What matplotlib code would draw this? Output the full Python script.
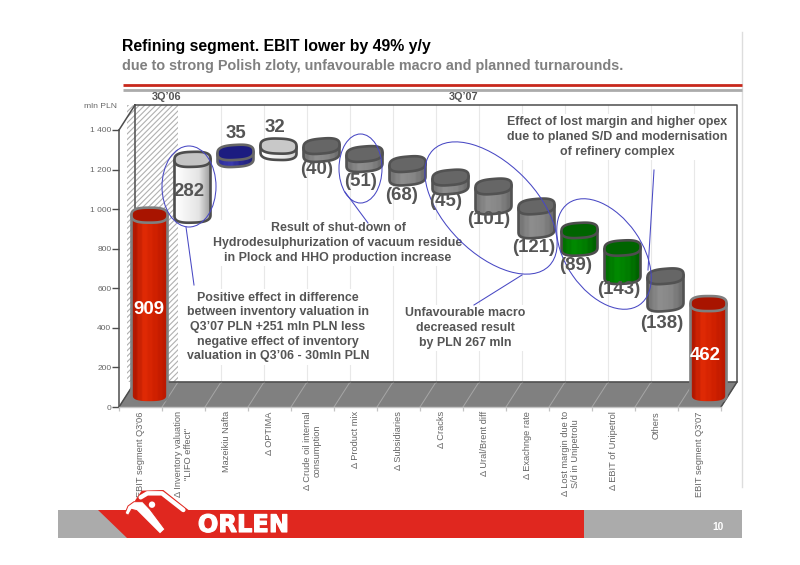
import numpy as np
import matplotlib
matplotlib.use("Agg")
import matplotlib.pyplot as plt
import matplotlib.patheffects as pe
from matplotlib.patches import Rectangle, Polygon, Ellipse, PathPatch, Circle
from matplotlib.path import Path
from matplotlib.colors import LinearSegmentedColormap

# ---- data ----
categories = ["EBIT segment Q3'06", "\u0394 Inventory valuation\n\"LIFO effect\"", "Mazeikiu Nafta",
              "\u0394 OPTIMA", "\u0394 Crude oil internal\nconsumption", "\u0394 Product mix",
              "\u0394 Subsidiaries", "\u0394 Cracks", "\u0394 Ural/Brent diff", "\u0394 Exachnge rate",
              "\u0394 Lost margin due to\nS/d in Unipetrolu", "\u0394 EBIT of Unipetrol", "Others",
              "EBIT segment Q3'07"]
values = [909, 282, 35, 32, -40, -51, -68, -45, -101, -121, -89, -143, -138, 462]
kinds = ["total", "white", "navy", "light", "grey", "grey", "grey", "grey", "grey", "grey",
         "green", "green", "grey", "total"]
y_ticks = [0, 200, 400, 600, 800, 1000, 1200, 1400]
y_tick_labels = ["0", "200", "400", "600", "800", "1 000", "1 200", "1 400"]

# ---- layout (pixels of the 800x565 picture) ----
W, H = 800, 565
X0, X1, Y0, Y1 = 119, 721, 407, 130
DX, DY = 16, 25                # depth of the 3D box
BAR_DX, BAR_DY = 9, 12         # bar seat on the floor
BAR_W, CAP_H = 36, 15
label_dx = [-1, -3.5, 0, -3.5, -5, -4, -6, -5, -4.5, -3, -4, -4, -4, -3.5]
label_py = [310, 192, 134, 128, 169, 181, 196, 202, 220, 247, 266, 289, 323, 355]
styles = {
    "total": dict(grad=["#a81500", "#e02a05", "#cf2000", "#b81800"], top="#a81400", edge="#7f7f7f", tilt=0, rip=0.04),
    "white": dict(grad=["#ffffff", "#f2f2f2", "#e4e4e4", "#9a9a9a"], top="#c4c4c4", edge="#4d4d4d", tilt=1, rip=0),
    "navy":  dict(grad=["#30309a", "#3a3ab0", "#28288c", "#202078"], top="#1c1c80", edge="#666666", tilt=2, rip=0.04),
    "light": dict(grad=["#ffffff", "#f4f4f4", "#e8e8e8", "#cccccc"], top="#c8c8c8", edge="#4d4d4d", tilt=-1, rip=0),
    "grey":  dict(grad=["#727272", "#8e8e8e", "#868686", "#686868"], top="#666666", edge="#525252", tilt=3, rip=0.03),
    "green": dict(grad=["#006a00", "#008a00", "#007c00", "#005c00"], top="#006400", edge="#4d4d4d", tilt=2, rip=0.04),
}
TXT = "#555555"
FONT = "Liberation Sans"
plt.rcParams["font.family"] = [FONT, "DejaVu Sans"]
plt.rcParams["hatch.linewidth"] = 0.8

fig = plt.figure(figsize=(W / 100, H / 100), dpi=100, facecolor="white")


def overlay(z):
    a = fig.add_axes([0, 0, 1, 1], zorder=z)
    a.set_xlim(0, W)
    a.set_ylim(H, 0)
    a.axis("off")
    a.patch.set_alpha(0)
    return a


back = overlay(0)
ax = fig.add_axes([X0 / W, (H - Y0) / H, (X1 - X0) / W, (Y0 - Y1) / H], zorder=1)
top = overlay(2)
ax.patch.set_alpha(0)

# ---- page furniture ----
back.plot([742, 742], [32, 487], color="#dddddd", lw=1.0)
back.plot([123, 742], [85, 85], color="#c8281c", lw=2.0, solid_capstyle="butt")
back.plot([123, 742], [90, 90], color="#ababab", lw=2.0, solid_capstyle="butt")
back.text(122, 47, "Refining segment. EBIT lower by 49% y/y", fontsize=11.45, fontweight="bold",
          color="black", ha="left", va="center")
back.text(122, 66, "due to strong Polish zloty, unfavourable macro and planned turnarounds.",
          fontsize=10.35, fontweight="bold", color="#808080", ha="left", va="center")
back.text(167, 97, "3Q\u201906", fontsize=7.8, fontweight="bold", color=TXT, ha="center", va="center")
back.text(464, 97, "3Q\u201907", fontsize=7.8, fontweight="bold", color=TXT, ha="center", va="center")
back.text(117, 106, "mln PLN", fontsize=6.1, color="#666666", ha="right", va="center")

# hatch band, back wall, floor
back.add_patch(Rectangle((127, Y1 - DY), 51, Y0 - Y1, facecolor="white", edgecolor="#b0b0b0",
                         hatch="//////", lw=0))
for k in range(2, 14):
    x = X0 + DX + 43 * k
    back.plot([x, x], [Y1 - DY, Y0 - DY], color="#e8e8e8", lw=0.8)
back.add_patch(Polygon([(X0, Y0), (X0 + DX, Y0 - DY), (X1 + DX, Y0 - DY), (X1, Y0)],
                       facecolor="#808080", edgecolor="#808080", lw=0.5))
for k in range(1, 14):
    x = X0 + 43 * k
    back.plot([x, x + DX], [Y0, Y0 - DY], color="#a6a6a6", lw=0.7)
back.plot([X0 + DX, X1 + DX, X1 + DX, X0 + DX, X0 + DX],
          [Y1 - DY, Y1 - DY, Y0 - DY, Y0 - DY, Y1 - DY], color="#4d4d4d", lw=1.1)
back.plot([X0, X0 + DX], [Y1, Y1 - DY], color="#4d4d4d", lw=1.1)
back.plot([X0, X0 + DX], [Y0, Y0 - DY], color="#4d4d4d", lw=1.1)
back.plot([X1, X1 + DX], [Y0, Y0 - DY], color="#4d4d4d", lw=1.1)

# footer
back.add_patch(Rectangle((58, 510), 684, 28, facecolor="#ababab", lw=0))
back.add_patch(Polygon([(98, 510), (584, 510), (584, 538), (127, 538)], facecolor="#e0271f", lw=0))


def z3(pts):
    return [(100 + x / 3, 370 + y / 3) for x, y in pts]


top.add_patch(Polygon(z3([(105, 392), (125, 362), (190, 360), (268, 422), (120, 422)]), facecolor="#e0271f", lw=0))
roof = z3([(122, 382), (142, 370), (186, 370), (250, 420)])
rx, ry = zip(*roof)
top.plot(rx, ry, color="white", lw=3.2, solid_capstyle="round", solid_joinstyle="round")
top.add_patch(Polygon(z3([(75, 430), (84, 408), (102, 395), (128, 395), (150, 418), (195, 478), (180, 492),
                          (110, 422), (95, 418), (85, 436)]),
                      facecolor="white", edgecolor="#e0271f", lw=0.7, joinstyle="round"))
top.add_patch(Circle(z3([(156, 404)])[0], 3.2, facecolor="white", lw=0))
top.text(243.5, 525, "ORLEN", fontsize=17.4, fontweight="bold", family="DejaVu Sans", color="white",
         ha="center", va="center", path_effects=[pe.withStroke(linewidth=0.8, foreground="white")])
top.text(718, 527, "10", fontsize=7.4, fontweight="bold", color="white", ha="center", va="center")

# ---- data axes ----
ax.set_xlim(0, len(categories))
ax.set_ylim(0, 1400)
for s in ("top", "right"):
    ax.spines[s].set_visible(False)
ax.spines["left"].set_color("#4d4d4d")
ax.spines["left"].set_linewidth(1.1)
ax.spines["bottom"].set_color("#c4c4c4")
ax.spines["bottom"].set_linewidth(1.0)
ax.set_yticks(y_ticks, y_tick_labels, fontsize=6.0, color="#666666")
ax.tick_params(axis="y", length=5, width=1.0, color="#4d4d4d", pad=0.5)
ax.set_xticks(np.arange(len(categories)) + 0.5, categories, rotation=90, fontsize=6.7, color="#666666",
              ha="center", va="top", linespacing=1.05)
ax.tick_params(axis="x", which="major", length=0, pad=3)
ax.set_xticks(np.arange(len(categories) + 1), minor=True)
ax.tick_params(axis="x", which="minor", length=3, width=0.9, color="#c4c4c4")

ux = 1 / 43.0
uy = 1400.0 / (Y0 - Y1)
POW = 0.72                      # squarer than an ellipse, like the faceted caps


def cylinder(i, low, high, st):
    cx = i + 0.5 + BAR_DX * ux
    hw = BAR_W / 2 * ux
    base = BAR_DY * uy
    ylo, yhi = low + base, high + base
    ch = CAP_H / 2 * uy
    slope = st["tilt"] * uy / (2 * hw)
    t = np.linspace(0, np.pi, 60)
    c = np.sign(np.cos(t)) * np.abs(np.cos(t)) ** POW
    s = np.sin(t) ** POW
    xs = cx - hw * c
    tilt = slope * (xs - cx)
    lower = ylo - ch * s + tilt
    upper_back = yhi + ch * s + tilt
    upper_front = yhi - ch * s + tilt
    hi_edge = yhi + tilt
    body = Path(np.r_[np.c_[xs, lower], np.c_[xs[::-1], hi_edge[::-1]], [[xs[0], lower[0]]]])
    ax.add_patch(PathPatch(body, facecolor="none", edgecolor=st["edge"], lw=1.9, zorder=3, clip_on=False,
                           joinstyle="round"))
    cmap = LinearSegmentedColormap.from_list("g", st["grad"])
    u = np.linspace(0, 1, 96)
    shade = np.clip(u + st["rip"] * np.sin(2 * np.pi * 7 * u), 0, 1)
    im = ax.imshow(shade[None, :], extent=(cx - hw, cx + hw, ylo - 2 * ch, yhi + 2 * ch), cmap=cmap,
                   vmin=0, vmax=1, aspect="auto", zorder=2, interpolation="bilinear")
    im.set_clip_path(PathPatch(body, transform=ax.transData))
    im.set_clip_box(fig.bbox)
    cap = np.r_[np.c_[xs, upper_back], np.c_[xs[::-1], upper_front[::-1]]]
    ax.add_patch(Polygon(cap, closed=True, facecolor=st["top"], edgecolor=st["edge"], lw=1.9, zorder=4,
                         clip_on=False, joinstyle="round"))
    return cx


running = 0
for i, (v, kind) in enumerate(zip(values, kinds)):
    if kind == "total":
        low, high = 0, v
        running = v
    else:
        low, high = sorted((running, running + v))
        running += v
    cx = cylinder(i, low, high, styles[kind])
    px = X0 + cx * 43 + label_dx[i]
    txt = f"({abs(v)})" if v < 0 else str(v)
    top.text(px, label_py[i], txt, fontsize=13.4, fontweight="bold",
             color="white" if kind == "total" else TXT, ha="center", va="center")
ax.set_xlim(0, len(categories))
ax.set_ylim(0, 1400)

# ---- commentary ----
note = dict(fontsize=8.95, fontweight="bold", color=TXT, ha="center", va="center", linespacing=1.29,
            multialignment="center")
wbox = dict(facecolor="white", edgecolor="none", pad=2)
back.text(278, 327, "Positive effect in difference\nbetween inventory valuation in\nQ3\u201907 PLN +251 mln PLN less\n"
          "negative effect of inventory\nvaluation in Q3\u201906 - 30mln PLN", bbox=wbox, **note)
back.text(338, 243, "Result of shut-down of\nHydrodesulphurization of vacuum residue\nin Plock and HHO production increase",
          bbox=wbox, **note)
back.text(465, 328, "Unfavourable macro\ndecreased result\nby PLN 267 mln", bbox=wbox, **note)
back.text(617, 137, "Effect of lost margin and higher opex\ndue to planed S/D and modernisation\nof refinery complex",
          bbox=wbox, **note)

BLUE = "#4848c4"
for c, w, h, ang in [((189, 186.5), 54, 81, 0), ((360.5, 168.5), 43, 69, 0),
                     ((491, 208), 164, 90, 45), ((604, 254), 124, 76, 55)]:
    top.add_patch(Ellipse(c, w, h, angle=ang, facecolor="none", edgecolor=BLUE, lw=0.75))
for (x0, y0), (x1, y1) in [((186, 227), (194, 285)), ((345, 192), (368, 223)),
                           ((522, 275), (474, 305)), ((654, 170), (648, 270))]:
    top.plot([x0, x1], [y0, y1], color=BLUE, lw=0.75)

fig.savefig("out.png", dpi=100)
